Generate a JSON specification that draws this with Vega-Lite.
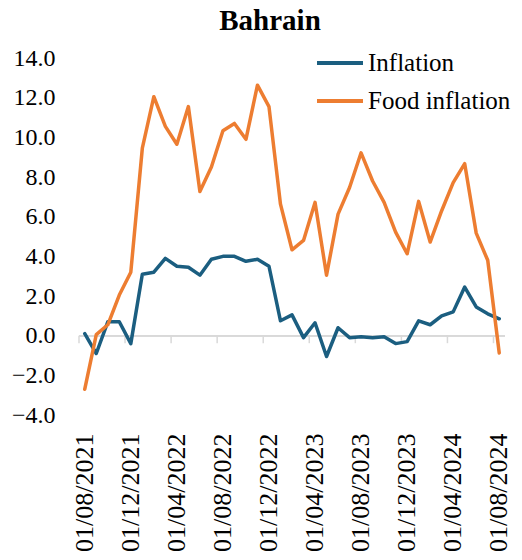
{
  "$schema": "https://vega.github.io/schema/vega-lite/v6.json",
  "autosize": "none",
  "width": 426,
  "height": 357,
  "padding": {"left": 79, "top": 58, "right": 17, "bottom": 145},
  "background": "white",
  "title": {"text": "Bahrain", "font": "Liberation Serif", "fontSize": 29, "fontWeight": "bold", "color": "#000000", "anchor": "middle", "dx": -22, "offset": 2},
  "config": {
    "view": {"stroke": null},
    "axis": {"labelOverlap": false, "labelFont": "Liberation Serif", "labelColor": "#000000", "title": null, "domain": false, "ticks": false, "grid": false},
    "axisY": {"labelFontSize": 24, "labelPadding": 24, "tickCount": 10, "format": ".1f"},
    "axisX": {"labelFontSize": 26, "labelPadding": 18, "labelAngle": 270}
  },
  "datasets": {
    "infl": [
      {"month": "2021-08", "series": "Inflation", "value": 0.1},
      {"month": "2021-09", "series": "Inflation", "value": -0.9},
      {"month": "2021-10", "series": "Inflation", "value": 0.7},
      {"month": "2021-11", "series": "Inflation", "value": 0.7},
      {"month": "2021-12", "series": "Inflation", "value": -0.4},
      {"month": "2022-01", "series": "Inflation", "value": 3.1},
      {"month": "2022-02", "series": "Inflation", "value": 3.2},
      {"month": "2022-03", "series": "Inflation", "value": 3.9},
      {"month": "2022-04", "series": "Inflation", "value": 3.5},
      {"month": "2022-05", "series": "Inflation", "value": 3.45},
      {"month": "2022-06", "series": "Inflation", "value": 3.05},
      {"month": "2022-07", "series": "Inflation", "value": 3.85},
      {"month": "2022-08", "series": "Inflation", "value": 4.0},
      {"month": "2022-09", "series": "Inflation", "value": 4.0},
      {"month": "2022-10", "series": "Inflation", "value": 3.75},
      {"month": "2022-11", "series": "Inflation", "value": 3.85},
      {"month": "2022-12", "series": "Inflation", "value": 3.5},
      {"month": "2023-01", "series": "Inflation", "value": 0.75},
      {"month": "2023-02", "series": "Inflation", "value": 1.05},
      {"month": "2023-03", "series": "Inflation", "value": -0.1},
      {"month": "2023-04", "series": "Inflation", "value": 0.65},
      {"month": "2023-05", "series": "Inflation", "value": -1.05},
      {"month": "2023-06", "series": "Inflation", "value": 0.4},
      {"month": "2023-07", "series": "Inflation", "value": -0.1},
      {"month": "2023-08", "series": "Inflation", "value": -0.05},
      {"month": "2023-09", "series": "Inflation", "value": -0.1},
      {"month": "2023-10", "series": "Inflation", "value": -0.05},
      {"month": "2023-11", "series": "Inflation", "value": -0.4},
      {"month": "2023-12", "series": "Inflation", "value": -0.3},
      {"month": "2024-01", "series": "Inflation", "value": 0.75},
      {"month": "2024-02", "series": "Inflation", "value": 0.55},
      {"month": "2024-03", "series": "Inflation", "value": 1.0},
      {"month": "2024-04", "series": "Inflation", "value": 1.2},
      {"month": "2024-05", "series": "Inflation", "value": 2.45},
      {"month": "2024-06", "series": "Inflation", "value": 1.45},
      {"month": "2024-07", "series": "Inflation", "value": 1.1},
      {"month": "2024-08", "series": "Inflation", "value": 0.85},
      {"month": "2021-08", "series": "Food inflation", "value": -2.7},
      {"month": "2021-09", "series": "Food inflation", "value": 0.05},
      {"month": "2021-10", "series": "Food inflation", "value": 0.55},
      {"month": "2021-11", "series": "Food inflation", "value": 2.05},
      {"month": "2021-12", "series": "Food inflation", "value": 3.2},
      {"month": "2022-01", "series": "Food inflation", "value": 9.45},
      {"month": "2022-02", "series": "Food inflation", "value": 12.05},
      {"month": "2022-03", "series": "Food inflation", "value": 10.55},
      {"month": "2022-04", "series": "Food inflation", "value": 9.65},
      {"month": "2022-05", "series": "Food inflation", "value": 11.55},
      {"month": "2022-06", "series": "Food inflation", "value": 7.27},
      {"month": "2022-07", "series": "Food inflation", "value": 8.5},
      {"month": "2022-08", "series": "Food inflation", "value": 10.33},
      {"month": "2022-09", "series": "Food inflation", "value": 10.7},
      {"month": "2022-10", "series": "Food inflation", "value": 9.9},
      {"month": "2022-11", "series": "Food inflation", "value": 12.63},
      {"month": "2022-12", "series": "Food inflation", "value": 11.55},
      {"month": "2023-01", "series": "Food inflation", "value": 6.63},
      {"month": "2023-02", "series": "Food inflation", "value": 4.33},
      {"month": "2023-03", "series": "Food inflation", "value": 4.8},
      {"month": "2023-04", "series": "Food inflation", "value": 6.72},
      {"month": "2023-05", "series": "Food inflation", "value": 3.05},
      {"month": "2023-06", "series": "Food inflation", "value": 6.13},
      {"month": "2023-07", "series": "Food inflation", "value": 7.47},
      {"month": "2023-08", "series": "Food inflation", "value": 9.22},
      {"month": "2023-09", "series": "Food inflation", "value": 7.8},
      {"month": "2023-10", "series": "Food inflation", "value": 6.72},
      {"month": "2023-11", "series": "Food inflation", "value": 5.22},
      {"month": "2023-12", "series": "Food inflation", "value": 4.13},
      {"month": "2024-01", "series": "Food inflation", "value": 6.77},
      {"month": "2024-02", "series": "Food inflation", "value": 4.72},
      {"month": "2024-03", "series": "Food inflation", "value": 6.3},
      {"month": "2024-04", "series": "Food inflation", "value": 7.72},
      {"month": "2024-05", "series": "Food inflation", "value": 8.67},
      {"month": "2024-06", "series": "Food inflation", "value": 5.17},
      {"month": "2024-07", "series": "Food inflation", "value": 3.8},
      {"month": "2024-08", "series": "Food inflation", "value": -0.87}
    ]
  },
  "data": {"name": "infl"},
  "layer": [
    {
      "mark": {"type": "rule", "color": "#d9d9d9", "strokeWidth": 1.5},
      "encoding": {"y": {"datum": 0, "type": "quantitative"}}
    },
    {
      "transform": [
        {"filter": "datum.series == 'Inflation'"},
        {"filter": {"field": "month", "oneOf": ["2021-08", "2021-12", "2022-04", "2022-08", "2022-12", "2023-04", "2023-08", "2023-12", "2024-04", "2024-08"]}}
      ],
      "mark": {"type": "rule", "color": "#d9d9d9", "strokeWidth": 1.5},
      "encoding": {
        "x": {"field": "month", "type": "ordinal", "sort": "ascending", "bandPosition": 0},
        "y": {"datum": 0, "type": "quantitative"},
        "y2": {"datum": -0.38}
      }
    },
    {
      "mark": {"type": "line", "strokeWidth": 3.5, "strokeJoin": "round", "strokeCap": "round"},
      "encoding": {
        "x": {
          "field": "month", "type": "ordinal", "sort": "ascending",
          "scale": {"type": "band", "paddingInner": 0, "paddingOuter": 0},
          "axis": {
            "values": ["2021-08", "2021-12", "2022-04", "2022-08", "2022-12", "2023-04", "2023-08", "2023-12", "2024-04", "2024-08"],
            "labelExpr": "'01/' + slice(datum.value, 5, 7) + '/' + slice(datum.value, 0, 4)",
            "labelAngle": 270, "labelAlign": "right", "labelBaseline": "middle"
          }
        },
        "y": {
          "field": "value", "type": "quantitative",
          "scale": {"domain": [-4, 14], "nice": false, "zero": false},
          "axis": {
            "values": [-4, -2, 0, 2, 4, 6, 8, 10, 12, 14],
            "format": ".1f"
          }
        },
        "color": {
          "field": "series", "type": "nominal",
          "scale": {"domain": ["Inflation", "Food inflation"], "range": ["#1B5E80", "#ED7D31"]},
          "legend": {
            "title": null, "orient": "none", "legendX": 236, "legendY": -20,
            "symbolType": "stroke", "symbolSize": 2116, "symbolStrokeWidth": 4,
            "labelFont": "Liberation Serif", "labelFontSize": 25, "labelColor": "#000000",
            "labelOffset": 3, "rowPadding": -9
          }
        }
      }
    }
  ]
}
